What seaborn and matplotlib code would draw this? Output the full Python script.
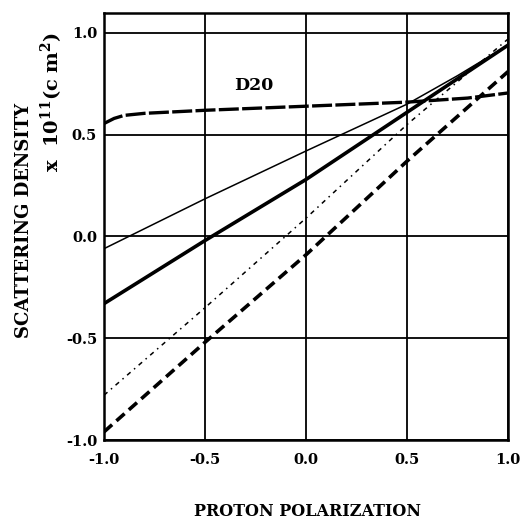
import matplotlib
matplotlib.use("Agg")
import matplotlib.pyplot as plt
import seaborn as sns
import numpy as np

# ---- data ----
tick_values = [-1.0, -0.5, 0.0, 0.5, 1.0]
tick_labels = ["-1.0", "-0.5", "0.0", "0.5", "1.0"]

d2o_x = [-1.0, -0.95, -0.9, -0.8, -0.5, 0.0, 0.5, 0.8, 1.0]
d2o_y = [0.555, 0.58, 0.595, 0.605, 0.62, 0.64, 0.66, 0.68, 0.705]

thin_x = [-1.0, -0.5, 0.0, 0.5, 0.75, 1.0]
thin_y = [-0.06, 0.185, 0.42, 0.65, 0.79, 0.94]

thick_x = [-1.0, -0.5, 0.0, 0.5, 1.0]
thick_y = [-0.33, -0.02, 0.28, 0.61, 0.94]

dotted_x = [-1.0, -0.5, 0.0, 0.5, 1.0]
dotted_y = [-0.78, -0.35, 0.09, 0.55, 0.97]

dashed_x = [-1.0, -0.5, 0.0, 0.5, 1.0]
dashed_y = [-0.96, -0.52, -0.09, 0.37, 0.81]

sns.set_style("white")
plt.rcParams["font.family"] = ["DejaVu Serif"]
plt.rcParams["font.weight"] = "bold"
plt.rcParams["text.color"] = "black"
plt.rcParams["xtick.color"] = "black"
plt.rcParams["ytick.color"] = "black"
plt.rcParams["mathtext.fontset"] = "custom"
plt.rcParams["mathtext.rm"] = "DejaVu Serif:bold"
plt.rcParams["mathtext.it"] = "DejaVu Serif:bold"
plt.rcParams["mathtext.bf"] = "DejaVu Serif:bold"

fig = plt.figure(figsize=(5.21, 5.23), dpi=100)
ax = fig.add_axes([104 / 521, 1 - 440 / 523, (508 - 104) / 521, (440 - 13) / 523])

sns.lineplot(x=d2o_x, y=d2o_y, ax=ax, color="black", linewidth=2.4,
             linestyle=(0, (6, 1)))
sns.lineplot(x=thin_x, y=thin_y, ax=ax, color="black", linewidth=1.1)
sns.lineplot(x=thick_x, y=thick_y, ax=ax, color="black", linewidth=2.6)
sns.lineplot(x=dotted_x, y=dotted_y, ax=ax, color="black", linewidth=1.1,
             linestyle=(0, (3, 3, 1, 3)))
sns.lineplot(x=dashed_x, y=dashed_y, ax=ax, color="black", linewidth=2.6,
             linestyle=(0, (3, 1.6)))

ax.set_xlim(-1.0, 1.0)
ax.set_ylim(-1.0, 1.098)
ax.set_xticks(tick_values)
ax.set_xticklabels(tick_labels)
ax.set_yticks(tick_values)
ax.set_yticklabels(tick_labels)
ax.tick_params(axis="both", length=0, labelsize=10.5, labelcolor="black")
ax.tick_params(axis="x", pad=9)
ax.tick_params(axis="y", pad=5)
for lab in ax.get_xticklabels() + ax.get_yticklabels():
    lab.set_fontweight("bold")

ax.grid(True, color="black", linewidth=1.3)
ax.set_axisbelow(True)
for s in ax.spines.values():
    s.set_color("black")
    s.set_linewidth(1.8)

ax.text(-0.26, 0.74, "D20", ha="center", va="center", fontsize=12.5,
        fontweight="bold", color="black")

fig.text(24 / 521, 1 - 220 / 523, "SCATTERING DENSITY", rotation=90,
         ha="center", va="center", fontsize=13, fontweight="bold", color="black")
fig.text(52 / 521, 1 - 102 / 523, r"x  10$^{11}$(c m$^{2}$)", rotation=90,
         ha="center", va="center", fontsize=14, fontweight="bold", color="black")
fig.text(308 / 521, 1 - 511 / 523, "PROTON POLARIZATION", ha="center",
         va="center", fontsize=11.5, fontweight="bold", color="black")

fig.savefig("out.png", dpi=100)
